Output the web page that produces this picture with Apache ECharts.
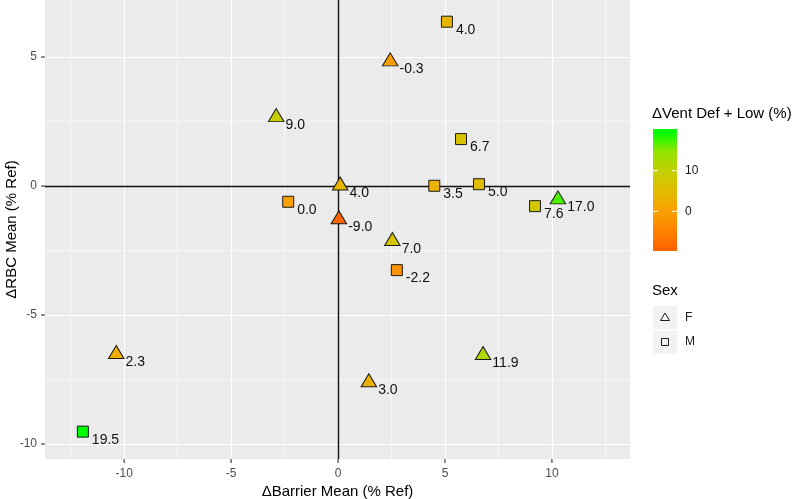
<!DOCTYPE html>
<html><head><meta charset="utf-8">
<script src="https://cdn.jsdelivr.net/npm/echarts@6/dist/echarts.min.js"></script>
<style>html,body{margin:0;padding:0;background:#fff}#c{width:800px;height:499px}</style>
</head><body><div id="c"></div>
<script>
// ---- data ----
const barrierMean = [5.09, 2.44, -2.89, 5.75, 0.10, 4.50, 6.59, -2.33, 0.04, 2.54, 2.75, 9.21, 10.28, -10.37, 1.44, 6.78, -11.93];
const rbcMean     = [6.37, 4.82, 2.66, 1.82, 0.01, 0.01, 0.07, -0.61, -1.30, -2.14, -3.26, -0.78, -0.53, -6.52, -7.62, -6.56, -9.52];
const ventDefLow  = [4.0, -0.3, 9.0, 6.7, 4.0, 3.5, 5.0, 0.0, -9.0, 7.0, -2.2, 7.6, 17.0, 2.3, 3.0, 11.9, 19.5];
const sex         = ['M','F','F','M','F','M','M','M','F','F','M','M','F','F','F','F','M'];
const xTicks = [-10, -5, 0, 5, 10];
const yTicks = [-10, -5, 0, 5];
const ventTicks = [0, 10];
const sexLevels = ['F', 'M'];
const xLim = [-13.7, 13.65];
const yLim = [-10.58, 7.21];

// ---- styling ----
const FONT = 'Liberation Sans, Arial, sans-serif';
const colorStops = ['#ff6400', '#fe8700', '#f8a300', '#e0bd00', '#c2d000', '#92e400', '#00ff00'];
const vMin = Math.min(...ventDefLow), vMax = Math.max(...ventDefLow);

function minors(ticks, lim) {
  const step = (ticks[1] - ticks[0]) / 2, out = [];
  for (let v = ticks[0] - step; v <= ticks[ticks.length - 1] + step + 1e-9; v += 2 * step) {
    if (v > lim[0] && v < lim[1]) out.push(v);
  }
  return out;
}
const gridLines = [];
xTicks.forEach(v => gridLines.push({ xAxis: v, lineStyle: { color: '#fff', width: 1.2, type: 'solid' } }));
minors(xTicks, xLim).forEach(v => gridLines.push({ xAxis: v, lineStyle: { color: '#fff', width: 0.6, type: 'solid' } }));
yTicks.forEach(v => gridLines.push({ yAxis: v, lineStyle: { color: '#fff', width: 1.2, type: 'solid' } }));
minors(yTicks, yLim).forEach(v => gridLines.push({ yAxis: v, lineStyle: { color: '#fff', width: 0.6, type: 'solid' } }));
const zeroLines = [
  { xAxis: 0, lineStyle: { color: '#111', width: 1.4, type: 'solid' } },
  { yAxis: 0, lineStyle: { color: '#111', width: 1.4, type: 'solid' } }
];

function pts(level) {
  const out = [];
  for (let i = 0; i < sex.length; i++) if (sex[i] === level) out.push([barrierMean[i], rbcMean[i], ventDefLow[i]]);
  return out;
}

const chart = echarts.init(document.getElementById('c'), null, { renderer: 'canvas' });

const axisCommon = {
  axisLine: { show: false },
  splitLine: { show: false },
  axisTick: { show: false },
  axisLabel: { color: '#4d4d4d', fontSize: 12, fontFamily: FONT },
  nameLocation: 'middle',
  nameMoveOverlap: false,
  nameTextStyle: { color: '#000', fontSize: 15, fontFamily: FONT }
};

// colour bar geometry (legend)
const barX = 653, barW = 24, barTop = 129, barBot = 251;
const zeroY = 211.3, pxPerUnit = 4.06;
const barTopVal = (zeroY - barTop) / pxPerUnit, barBotVal = -(barBot - zeroY) / pxPerUnit;
const gradStops = [{ offset: 0, color: colorStops[colorStops.length - 1] }];
for (let i = colorStops.length - 1; i >= 0; i--) {
  const v = vMin + i * (vMax - vMin) / (colorStops.length - 1);
  gradStops.push({ offset: Math.min(1, Math.max(0, (barTopVal - v) / (barTopVal - barBotVal))), color: colorStops[i] });
}
gradStops.push({ offset: 1, color: colorStops[0] });

const graphics = [
  { type: 'text', left: 652, top: 106, style: { text: 'ΔVent Def + Low (%)', fill: '#000', font: '15px ' + FONT } },
  { type: 'rect', shape: { x: barX, y: barTop, width: barW, height: barBot - barTop },
    style: { fill: new echarts.graphic.LinearGradient(0, 0, 0, 1, gradStops) } }
];
ventTicks.forEach(v => {
  const y = zeroY - v * pxPerUnit;
  graphics.push({ type: 'line', shape: { x1: barX, y1: y, x2: barX + 5, y2: y }, style: { stroke: '#fff', lineWidth: 1 } });
  graphics.push({ type: 'line', shape: { x1: barX + barW - 5, y1: y, x2: barX + barW, y2: y }, style: { stroke: '#fff', lineWidth: 1 } });
  graphics.push({ type: 'text', x: 685, y: y, style: { text: String(v), fill: '#1a1a1a', font: '12px ' + FONT, verticalAlign: 'middle' } });
});
graphics.push({ type: 'text', left: 652, top: 283, style: { text: 'Sex', fill: '#000', font: '15px ' + FONT } });
sexLevels.forEach((lv, i) => {
  const y0 = 306 + i * 24.5;
  graphics.push({ type: 'rect', shape: { x: 653, y: y0, width: 24, height: 23 }, style: { fill: '#f2f2f2' } });
  const cx = 665, cy = y0 + 11.5;
  if (lv === 'F') {
    graphics.push({ type: 'polygon', shape: { points: [[cx, cy - 4.5], [cx + 4.5, cy + 3], [cx - 4.5, cy + 3]] }, style: { fill: 'none', stroke: '#1a1a1a', lineWidth: 1 } });
  } else {
    graphics.push({ type: 'rect', shape: { x: cx - 3.5, y: cy - 3.5, width: 7, height: 7 }, style: { fill: 'none', stroke: '#1a1a1a', lineWidth: 1 } });
  }
  graphics.push({ type: 'text', x: 685, y: cy, style: { text: lv, fill: '#1a1a1a', font: '12px ' + FONT, verticalAlign: 'middle' } });
});

const labelStyle = { color: '#111', fontSize: 14, fontFamily: FONT, formatter: p => p.value[2].toFixed(1) };

chart.setOption({
  animation: false,
  backgroundColor: '#fff',
  grid: { left: 45, right: 170, top: 0, bottom: 40, show: true, backgroundColor: '#ebebeb', borderWidth: 0,
          containLabel: false, outerBoundsMode: 'none' },
  xAxis: Object.assign({}, axisCommon, {
    type: 'value', min: xLim[0], max: xLim[1],
    name: 'ΔBarrier Mean (% Ref)', nameGap: 25,
    axisLabel: Object.assign({}, axisCommon.axisLabel, { customValues: xTicks, margin: 9 })
  }),
  yAxis: Object.assign({}, axisCommon, {
    type: 'value', min: yLim[0], max: yLim[1],
    name: 'ΔRBC Mean (% Ref)', nameGap: 26,
    axisLabel: Object.assign({}, axisCommon.axisLabel, { customValues: yTicks, margin: 8 })
  }),
  visualMap: {
    show: false, type: 'continuous', dimension: 2, min: vMin, max: vMax,
    seriesIndex: [2, 3], inRange: { color: colorStops }
  },
  series: [
    { type: 'scatter', data: [], z: 1, silent: true,
      markLine: { silent: true, symbol: 'none', animation: false, label: { show: false }, z: 1, data: gridLines } },
    { type: 'scatter', data: [], z: 2, silent: true,
      markLine: { silent: true, symbol: 'none', animation: false, label: { show: false }, z: 2, data: zeroLines } },
    { name: 'F', type: 'scatter', z: 5, data: pts('F'), symbol: 'triangle', symbolSize: [15.5, 13], symbolOffset: [0, -2.3],
      itemStyle: { borderColor: '#1a1a1a', borderWidth: 1, opacity: 1 },
      label: Object.assign({ show: true, position: 'right', distance: 1, offset: [0, 10] }, labelStyle) },
    { name: 'M', type: 'scatter', z: 5, data: pts('M'), symbol: 'rect', symbolSize: 11,
      itemStyle: { borderColor: '#1a1a1a', borderWidth: 1, opacity: 1 },
      label: Object.assign({ show: true, position: 'right', distance: 3, offset: [0, 8.3] }, labelStyle) }
  ]
});

// axis tick marks, positioned through the chart's own scales
const TICK = 4;
const gridBottomPx = chart.convertToPixel({ yAxisIndex: 0 }, yLim[0]);
const gridLeftPx = chart.convertToPixel({ xAxisIndex: 0 }, xLim[0]);
xTicks.forEach(v => {
  const x = chart.convertToPixel({ xAxisIndex: 0 }, v);
  graphics.push({ type: 'line', shape: { x1: x, y1: gridBottomPx, x2: x, y2: gridBottomPx + TICK }, style: { stroke: '#333', lineWidth: 1.1 } });
});
yTicks.forEach(v => {
  const y = chart.convertToPixel({ yAxisIndex: 0 }, v);
  graphics.push({ type: 'line', shape: { x1: gridLeftPx - TICK, y1: y, x2: gridLeftPx, y2: y }, style: { stroke: '#333', lineWidth: 1.1 } });
});
chart.setOption({ graphic: graphics });
</script>
</body></html>
